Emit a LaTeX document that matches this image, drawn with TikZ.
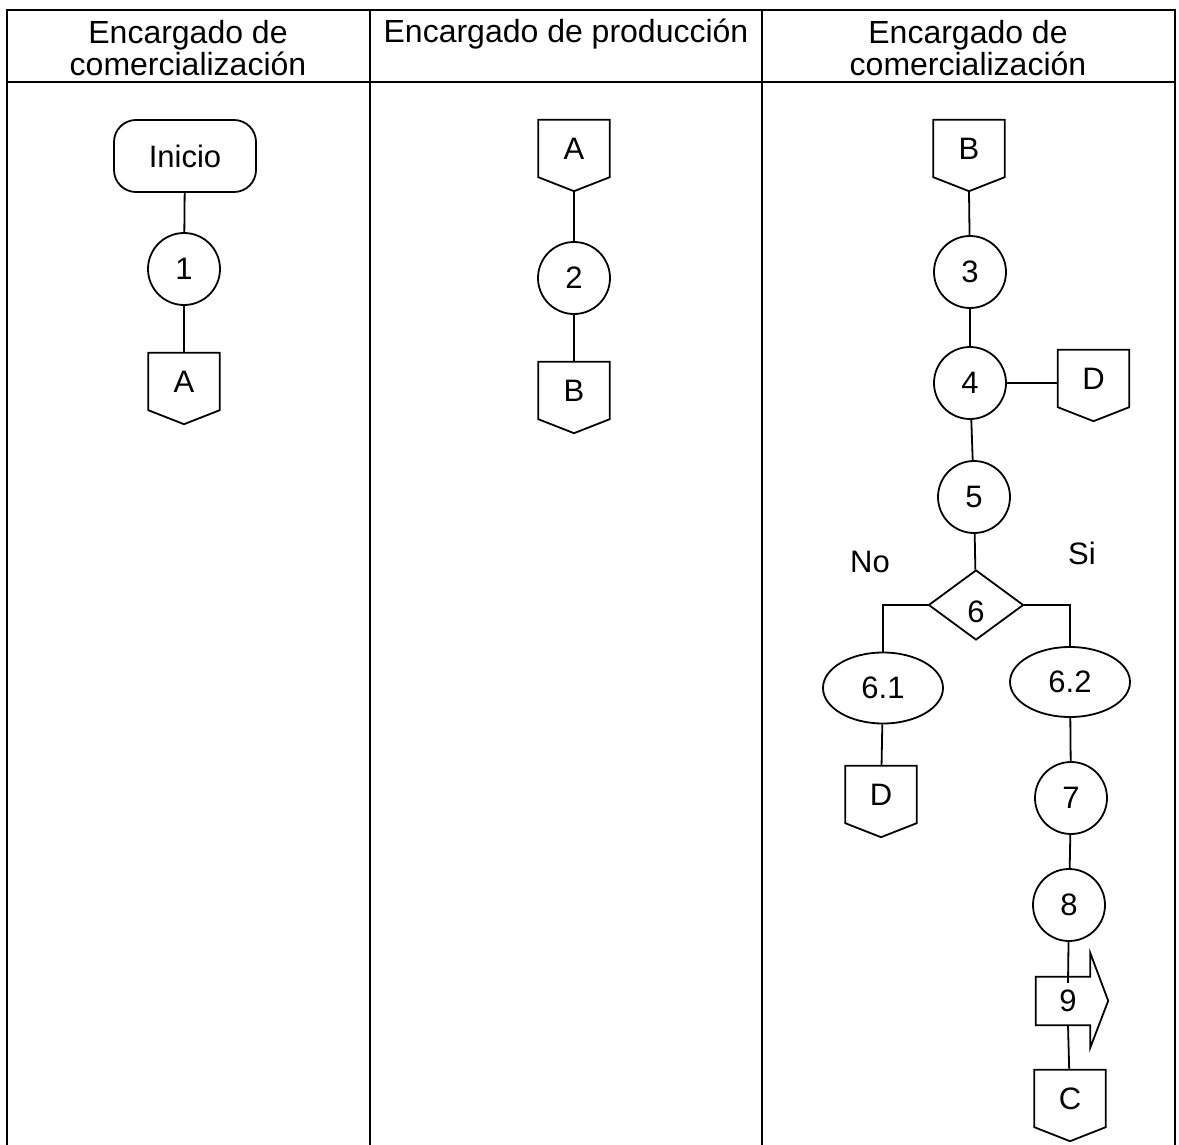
\documentclass[tikz,border=0pt]{standalone}
\usepackage{fontspec}
\setmainfont{Liberation Sans}
\usetikzlibrary{shapes.geometric}
\tikzset{
  shp/.style={draw, line width=1.8pt},
  conn/.style={line width=1.8pt},
  tbl/.style={line width=2.8pt},
  opg/.style={rectangle, minimum width=71pt, minimum height=57pt, inner sep=0pt},
  proc/.style={shp, circle, minimum size=72pt, inner sep=0pt},
  oval/.style={shp, ellipse, minimum width=120pt, minimum height=71pt, inner sep=0pt},
  hdr/.style={align=center, font=\fontsize{32}{32}\selectfont},
  lbl/.style={inner sep=0pt}
}
% off-page connector: name, x, y of top edge, label
\newcommand\offpg[4]{%
  \node[opg] (#1) at (#2,#3+28.5) {#4};
  \draw[shp] (#1.north west) -- (#1.north east) -- (#1.south east)
     -- ([yshift=-14pt]#1.south) coordinate (#1tip) -- (#1.south west) -- cycle;
}
\begin{document}
\begin{tikzpicture}[x=1pt, y=-1pt, font=\fontsize{31}{35}\selectfont]
\useasboundingbox (0,0) rectangle (1179,1145);
% table
\draw[tbl] (7,1145) -- (7,10) -- (1175,10) -- (1175,1145);
\draw[tbl] (7,82) -- (1175,82);
\draw[tbl] (370,10) -- (370,1145);
\draw[tbl] (762,10) -- (762,1145);
\node[hdr] (h1) at (188,48) {Encargado de\\comercialización};
\node[hdr] (h2) at (566,34) {Encargado de producción};
\node[hdr] (h3) at (968,48) {Encargado de\\comercialización};

% column 1
\node[shp, rectangle, rounded corners=22pt, minimum width=142pt, minimum height=72pt, inner sep=0pt] (ini) at (185,156) {Inicio};
\node[proc] (c1) at (184,269) {1};
\offpg{A1}{184}{353}{A}
\draw[conn] (ini) -- (c1);
\draw[conn] (c1) -- (A1);

% column 2
\offpg{A2}{574}{120}{A}
\node[proc] (c2) at (574,278) {2};
\offpg{B2}{574}{362}{B}
\draw[conn] (A2tip) -- (c2);
\draw[conn] (c2) -- (B2);

% column 3
\offpg{B3}{969}{120}{B}
\node[proc] (c3) at (970,272) {3};
\node[proc] (c4) at (970,383) {4};
\offpg{D1}{1093.5}{350}{D}
\node[proc] (c5) at (974,497) {5};
\node[shp, diamond, minimum width=95pt, minimum height=70pt, inner sep=0pt] (d6) at (976,605) {};
\node[lbl] (d6lbl) at ([yshift=-7pt]d6.center) {6};
\node[lbl] (no) at (870,562) {No};
\node[lbl] (si) at (1082,553) {Si};
\node[oval] (e61) at (883,688) {6.1};
\node[oval, minimum height=70pt] (e62) at (1070,682) {6.2};
\offpg{D2}{881}{766}{D}
\node[proc] (c7) at (1071,798) {7};
\node[proc] (c8) at (1069,905) {8};
\node[rectangle, minimum width=54pt, minimum height=48pt, inner sep=0pt] (s9) at (1063,1001) {};
\draw[shp] (s9.north west) -- (s9.north east) -- ++(0,-24) -- ++(18,48) -- ++(-18,47)
   -- (s9.south east) -- (s9.south west) -- cycle;
\node[lbl] (s9lbl) at ([xshift=5pt]s9.center) {9};
\coordinate (s9top) at ([xshift=5pt,yshift=-6pt]s9.north);
\coordinate (s9bot) at ([xshift=5pt]s9.south);
\offpg{C}{1070}{1070}{C}

\draw[conn] (B3tip) -- (c3);
\draw[conn] (c3) -- (c4);
\draw[conn] (c4.east) -- (c4.east -| D1.west);
\draw[conn] (c4) -- (c5);
\draw[conn] (c5) -- (d6);
\draw[conn] (d6.west) -| (e61.north);
\draw[conn] (d6.east) -| (e62.north);
\draw[conn] (e61) -- (D2);
\draw[conn] (e62) -- (c7);
\draw[conn] (c7) -- (c8);
\draw[conn] (c8) -- (s9top);
\draw[conn] (s9bot) -- (C);
\end{tikzpicture}
\end{document}
